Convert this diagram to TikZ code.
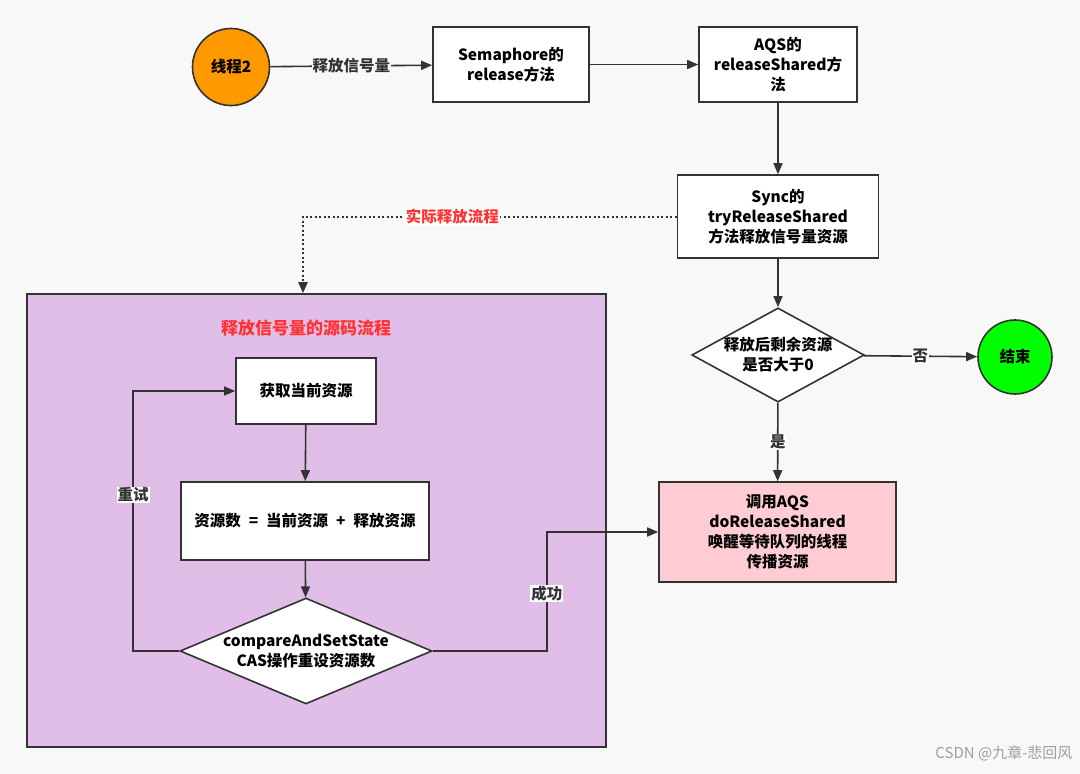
\documentclass[tikz,border=0pt]{standalone}
\usepackage{fontspec}
\setmainfont{Noto Sans CJK SC}
\usetikzlibrary{arrows.meta,shapes.geometric}

\definecolor{linecol}{HTML}{333333}
\definecolor{bgcol}{HTML}{F8F8F8}
\definecolor{orangecol}{HTML}{FF9900}
\definecolor{greencol}{HTML}{00FF00}
\definecolor{pinkcol}{HTML}{FFCCD3}
\definecolor{purplecol}{HTML}{E1BEE7}
\definecolor{redcol}{HTML}{FF3333}

\begin{document}
\begin{tikzpicture}[x = 1pt, y = -1pt,
    font = \fontsize{15.5}{20}\selectfont\bfseries,
    box/.style = {draw = linecol, line width = 1.6pt, fill = white, align = center, inner sep = 0pt},
    decision/.style = {diamond, draw = linecol, line width = 1.6pt, fill = white, align = center, inner sep = 0pt},
    flow/.style = {draw = linecol, line width = 1.6pt, -{Triangle[length = 11pt, width = 9pt]}},
    lbl/.style = {fill = white, inner sep = 1pt, text = linecol}]

    % Sfondo
    \fill[bgcol] (0,0) rectangle (1080,774);
    \useasboundingbox (0,0) rectangle (1080,774);

    % Catena di chiamate
    \node[box, circle, fill = orangecol, minimum size = 77pt] (thread) at (231,67) {线程2};
    \node[box, minimum width = 156pt, minimum height = 75pt] (sem) at (511,64.5) {Semaphore的\\release方法};
    \node[box, minimum width = 158pt, minimum height = 75pt] (aqs) at (778,64.5) {AQS的\\releaseShared方\\法};
    \node[box, minimum width = 201pt, minimum height = 83pt] (sync) at (778,216.5) {Sync的\\tryReleaseShared\\方法释放信号量资源};

    % Decisione e fine
    \node[decision, shape aspect = 1.83, minimum width = 172pt, minimum height = 94pt] (remain) at (778,355) {释放后剩余资源\\是否大于0};
    \node[box, circle, fill = greencol, minimum size = 74pt] (finish) at (1015,357) {结束};
    \node[box, fill = pinkcol, minimum width = 237pt, minimum height = 100pt] (wake) at (777.5,532) {调用AQS\\doReleaseShared\\唤醒等待队列的线程\\传播资源};

    % Riquadro del codice sorgente
    \node[box, fill = purplecol, minimum width = 579pt, minimum height = 453pt] (src) at (316.5,520.5) {};
    \node[text = redcol, font = \fontsize{17}{20}\selectfont\bfseries] (title) at (306,328) {释放信号量的源码流程};
    \node[box, minimum width = 140pt, minimum height = 66pt] (get) at (306,391) {获取当前资源};
    \node[box, minimum width = 248pt, minimum height = 78pt] (sum) at (305,521) {资源数\hspace{8pt}=\hspace{8pt}当前资源\hspace{8pt}+\hspace{8pt}释放资源};
    \node[decision, shape aspect = 2.38, minimum width = 252pt, minimum height = 106pt] (cas) at (306,651) {compareAndSetState\\CAS操作重设资源数};

    % Frecce
    \draw[flow] (thread) -- node[lbl, fill = bgcol] {释放信号量} (sem);
    \draw[flow] (sem) -- (aqs);
    \draw[flow] (aqs) -- (sync);
    \draw[flow] (sync) -- (remain);
    \draw[flow] (remain) -- node[lbl] {否} (finish);
    \draw[flow] (remain) -- node[lbl] {是} (wake);
    \draw[flow] (get) -- (sum);
    \draw[flow] (sum) -- (cas);
    \draw[flow] (cas.west) -- ++(-46,0) |- node[lbl, pos = 0.3] {重试} (get.west);
    \draw[flow] (cas.east) -- ++(114,0) |- node[lbl, pos = 0.24] {成功} (wake.west);

    % Flusso reale (puntinato)
    \draw[flow, line width = 2pt, dash pattern = on 2pt off 2.5pt] (sync.west) -| node[lbl, text = redcol, pos = 0.3] {实际释放流程} ([xshift = -13.5pt]src.north);

    % Firma
    \node[anchor = east, font = \fontsize{15}{18}\selectfont, text = gray!75] (sign) at (1076,753) {CSDN @九章-悲回风};

\end{tikzpicture}
\end{document}
